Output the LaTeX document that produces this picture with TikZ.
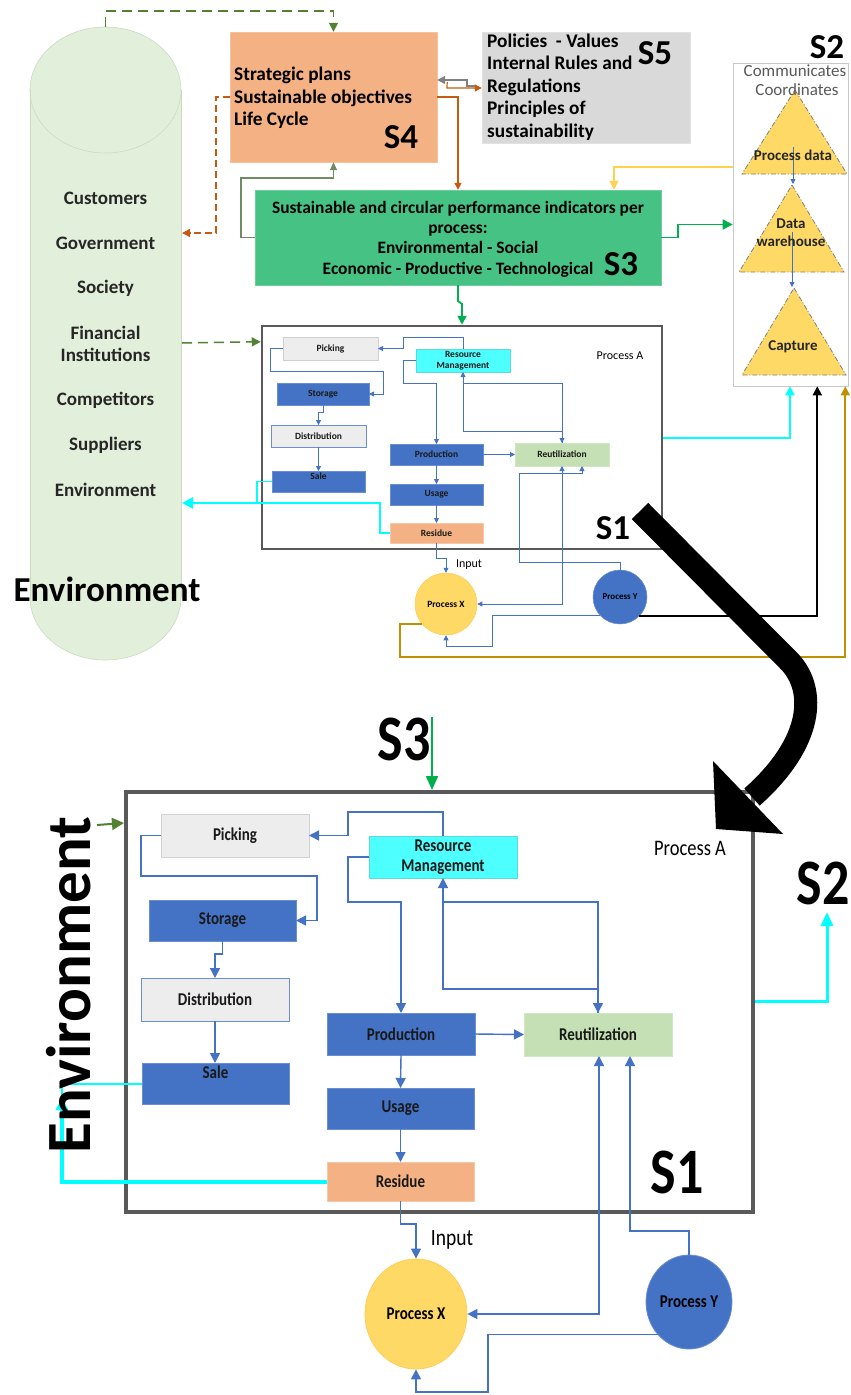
\documentclass[tikz,border=0pt]{standalone}
\usepackage{graphicx}
\usepackage{fontspec}
\setmainfont{Carlito}
\usetikzlibrary{arrows.meta,shapes.geometric,calc}
\definecolor{cylf}{HTML}{E2EFDA}
\definecolor{cyld}{HTML}{C9DCBE}
\definecolor{sfour}{HTML}{F4B183}
\definecolor{sfive}{HTML}{D9D9D9}
\definecolor{sthree}{HTML}{47C285}
\definecolor{cblue}{HTML}{4472C4}
\definecolor{cblueb}{HTML}{6A8FD0}
\definecolor{cgrey}{HTML}{EDEDED}
\definecolor{cgreyb}{HTML}{D0D0D0}
\definecolor{ccyan}{HTML}{4DFFFF}
\definecolor{creu}{HTML}{C5E0B4}
\definecolor{cyel}{HTML}{FFD966}
\definecolor{dgreen}{HTML}{548235}
\definecolor{corange}{HTML}{C55A11}
\definecolor{cgreen}{HTML}{00B050}
\definecolor{cgold}{HTML}{BF9000}
\definecolor{cframe}{HTML}{595959}
\definecolor{cyline}{HTML}{FFD24D}
\definecolor{lcyan}{HTML}{00FFFF}
\definecolor{ggreen}{HTML}{6E8B63}
\definecolor{tridash}{HTML}{7F7F7F}
\definecolor{s2border}{HTML}{C8C8C8}
\newcommand\fsz[1]{\fontsize{#1}{#1}\selectfont}
\newcommand\tallt[1]{\scalebox{1}[1.2]{#1}}
\tikzset{
  bxs/.style={rectangle, inner sep=0pt, outer sep=0pt, align=center, font=\bfseries\fsz{9.5}, text=black!90},
  blueS/.style={bxs, fill=cblue, draw=cblueb, line width=0.6pt},
  greyS/.style={bxs, fill=cgrey, draw=cgreyb, line width=0.6pt},
  greyblueS/.style={bxs, fill=cgrey, draw=cblueb, line width=0.6pt},
  cyanS/.style={bxs, fill=ccyan, draw=ccyan!70!gray, line width=0.4pt},
  reuS/.style={bxs, fill=creu, draw=creu!80!white, line width=0.4pt},
  resS/.style={bxs, fill=sfour, draw=sfour!70!white, line width=0.4pt},
  bxB/.style={rectangle, inner sep=0pt, outer sep=0pt, align=center, font=\bfseries\fsz{15}, text=black!90},
  blueB/.style={bxB, fill=cblue, draw=cblueb, line width=1pt},
  greyB/.style={bxB, fill=cgrey, draw=cgreyb, line width=1pt},
  greyblueB/.style={bxB, fill=cgrey, draw=cblueb, line width=1pt},
  cyanB/.style={bxB, fill=ccyan, draw=ccyan!70!gray, line width=0.6pt},
  reuB/.style={bxB, fill=creu, draw=creu!80!white, line width=0.6pt},
  resB/.style={bxB, fill=sfour, draw=sfour!70!white, line width=0.6pt},
  conS/.style={draw=cblue, line width=0.8pt, -{Triangle[length=5pt,width=5pt]}},
  conSb/.style={draw=cblue, line width=0.8pt, {Triangle[length=5pt,width=5pt]}-{Triangle[length=5pt,width=5pt]}},
  conB/.style={draw=cblue, line width=1.4pt, -{Triangle[length=10pt,width=10pt]}},
  conBb/.style={draw=cblue, line width=1.4pt, {Triangle[length=10pt,width=10pt]}-{Triangle[length=10pt,width=10pt]}},
  slab/.style={font=\bfseries\fsz{35}, inner sep=0pt},
  cyltxt/.style={font=\bfseries\fsz{19}, text=black!85, align=center},
  trifill/.style={fill=cyel, draw=tridash, line width=0.8pt, dash pattern=on 5pt off 2pt on 1pt off 2pt},
  tritxt/.style={font=\bfseries\fontsize{15}{18}\selectfont, text=black!85, align=center, inner sep=0pt},
}
\begin{document}
\begin{tikzpicture}[x=1pt,y=-1pt]
\useasboundingbox (0,0) rectangle (851,1395);
\fill[white] (0,0) rectangle (851,1395);

% ---------- cylinder (environment) ----------
\fill[cylf] (30,90) rectangle (181,597);
\fill[cylf] (105.5,597) ellipse [x radius=75.5, y radius=63];
\fill[cylf] (105.5,90) ellipse [x radius=75.5, y radius=63];
\draw[cyld, line width=0.6pt] (105.5,90) ellipse [x radius=75.5, y radius=63];
\draw[cyld, line width=0.6pt] (30,90) -- (30,597) (181,90) -- (181,597);
\begin{scope}
\clip (0,597) rectangle (200,700);
\draw[cyld, line width=0.6pt] (105.5,597) ellipse [x radius=75.5, y radius=63];
\end{scope}
\coordinate (cylTop) at (105.5,27);
\coordinate (cylA) at (182,233);
\coordinate (cylB) at (182,343);
\coordinate (cylC) at (182,503);

\node[cyltxt] (cCust) at (105.5,198) {Customers};
\node[cyltxt] (cGov) at (105.5,243) {Government};
\node[cyltxt] (cSoc) at (105.5,288) {Society};
\node[cyltxt, font=\bfseries\fontsize{19}{22}\selectfont] (cFin) at (105.5,344) {Financial\\Institutions};
\node[cyltxt] (cComp) at (105.5,400) {Competitors};
\node[cyltxt] (cSup) at (105.5,445) {Suppliers};
\node[cyltxt] (cEnv) at (105.5,490) {Environment};
\node[font=\bfseries\fsz{35}, inner sep=0pt] (envTop) at (107,589) {Environment};

% ---------- S4, S5, S3 ----------
\node[fill=sfour, draw=sfour!80!white, minimum width=207, minimum height=130, inner sep=0pt] (S4) at (333.5,97) {};
\node[anchor=west, align=left, font=\bfseries\fontsize{19.3}{22.5}\selectfont, inner sep=0pt] (S4t) at (234,98) {Strategic plans\\Sustainable objectives\\Life Cycle};
\node[slab] (S4l) at (401,137) {S4};

\node[fill=sfive, draw=sfive!80!white, minimum width=208, minimum height=111, inner sep=0pt] (S5) at (586,87.5) {};
\node[anchor=west, align=left, font=\bfseries\fontsize{19.3}{22.5}\selectfont, inner sep=0pt] (S5t) at (487,87) {Policies\ \ - Values\\Internal Rules and\\Regulations\\Principles of\\sustainability};
\node[slab] (S5l) at (655,53) {S5};

\node[fill=sthree, draw=sthree!80!white, minimum width=406, minimum height=95, inner sep=0pt] (S3) at (458,237.5) {};
\node[align=center, font=\bfseries\fontsize{17.4}{20.3}\selectfont, inner sep=0pt] (S3t) at (458,239) {Sustainable and circular performance indicators per\\process:\\Environmental - Social\\Economic - Productive - Technological};
\node[slab] (S3l) at (621,264) {S3};

% ---------- S2 column ----------
\node[slab] (S2l) at (827,47) {S2};
\node[draw=s2border, line width=0.6pt, minimum width=115, minimum height=323, inner sep=0pt] (S2box) at (790.5,224.5) {};
\filldraw[trifill] (795,90) -- (847,174) -- (742,174) -- cycle;
\filldraw[trifill] (792,185) -- (844,272) -- (739,272) -- cycle;
\filldraw[trifill] (794,288) -- (846,375) -- (742,375) -- cycle;
\coordinate (t1s) at (793,147);
\coordinate (t2a) at (793,184);
\coordinate (t2s) at (792,232);
\coordinate (t3a) at (792,287);
\draw[conS] (t1s) -- (t2a);
\draw[conS] (t2s) -- (t3a);
\node[font=\fsz{17}, text=cframe, inner sep=0pt] (comm) at (795,71) {Communicates};
\node[font=\fsz{17}, text=cframe, inner sep=0pt] (coord) at (797,90) {Coordinates};
\node[tritxt] (T1) at (793,155) {Process data};
\node[tritxt] (T2) at (791,233) {Data\\warehouse};
\node[tritxt] (T3) at (793,347) {Capture};

% ---------- top connectors ----------
\draw[dgreen, line width=1.5pt, dash pattern=on 10pt off 6pt, -{Triangle[length=9pt,width=9pt]}] (cylTop) -- (105.5,11) -| (S4.north);
\draw[corange, line width=1.3pt, dash pattern=on 7pt off 4pt, -{Triangle[length=8pt,width=8pt]}] (S4.west) -- (216,97) |- (cylA);
\draw[ggreen, line width=1.2pt, -{Triangle[length=8pt,width=7pt]}] (S3.west) -| (241,178) -| (S4.south);
\draw[corange, line width=1.2pt, -{Triangle[length=7pt,width=7pt]}] (S4.east) -| (S3.north);
\draw[gray, line width=1.2pt, -{Triangle[length=8pt,width=8pt]}] ($(S5.west)+(-6,-1.5)$) -- (467,86) -- (467,80) -- ($(S4.east)+(0,-17)$);
\draw[corange, line width=1.2pt, -{Triangle[length=7pt,width=7pt]}] ($(S4.east)+(10,-15)$) -- (447,88) -- ($(S5.west)+(0,0.5)$);
\draw[cyline, line width=1.5pt, -{Triangle[length=9pt,width=9pt]}] ($(S2box.west)+(0,-57.5)$) -| ($(S3.north)+(156,0)$);
\draw[cgreen, line width=1.8pt, -{Triangle[length=10pt,width=10pt]}] (S3.east) -- (678,237.5) |- (S2box.west);

% ---------- small process A ----------
\node[draw=cframe, line width=2.5pt, minimum width=400, minimum height=223, inner sep=0pt] (PA1) at (462,437.5) {};
\node[greyS, minimum width=95, minimum height=23] (Pick1) at (330.5,348.5) {Picking};
\node[cyanS, minimum width=94, minimum height=23, font=\bfseries\fontsize{9.5}{10.5}\selectfont] (RM1) at (463,360.5) {Resource\\Management};
\node[blueS, minimum width=92, minimum height=22] (Sto1) at (323,394) {Storage};
\node[greyblueS, minimum width=95, minimum height=22] (Dis1) at (318.5,436) {Distribution};
\node[blueS, minimum width=93, minimum height=21, label={[bxs, anchor=north, yshift=-2pt]north:Sale}] (Sale1) at (318.5,481.5) {};
\node[blueS, minimum width=93, minimum height=21] (Prod1) at (436.5,454.5) {Production};
\node[blueS, minimum width=93, minimum height=21] (Use1) at (436.5,494.5) {Usage};
\node[resS, minimum width=93, minimum height=20] (Res1) at (436.5,533) {Residue};
\node[reuS, minimum width=94, minimum height=23] (Reu1) at (562,454.5) {Reutilization};
\node[circle, fill=cyel, draw=cyel!85!orange, line width=0.5pt, minimum size=62, inner sep=0pt, font=\bfseries\fsz{9.5}] (PX1) at (446,604) {Process X};
\node[circle, fill=cblue, draw=cblueb, line width=0.5pt, minimum size=54, inner sep=0pt, font=\bfseries\fsz{9}] (PY1) at (620,597) {Process Y};
\node[font=\fsz{12}, inner sep=0pt] (PAl1) at (620,356) {Process A};
\node[font=\fsz{12}, inner sep=0pt] (In1) at (469,565) {Input};
\node[slab] (S1s) at (613,528) {S1};

\draw[conS] (RM1.north) |- (403,337) |- (Pick1.east);
\draw[conS] (Pick1.west) -- (270,348.5) |- (383,371) |- (Sto1.east);
\draw[conS] (Sto1.south) |- (318.5,412) -- (Dis1.north);
\draw[conS] (Dis1.south) -- (Sale1.north);
\draw[conS] (RM1.west) -- (403,360.5) |- (436.5,383) -- (Prod1.north);
\draw[conS] (Prod1.east) -- (Reu1.west);
\draw[conS] (Prod1.south) -- (Use1.north);
\draw[conS] (Use1.south) -- (Res1.north);
\draw[conS] (Reu1.north) |- (463,431) -- (RM1.south);
\draw[conS] ($(RM1.south)+(0,11.5)$) -| (Reu1.north);
\draw[conS] (Res1.south) |- (446,558) -- (PX1.north);
\draw[conSb] (Reu1.south) |- (PX1.east);
\draw[conS] (PY1.north) |- (519,562) |- (582,473) -- ($(Reu1.south)+(20,0)$);
\draw[conS] (PY1.223) -| (492,646) -| (PX1.south);

% connectors from small process A
\draw[cgreen, line width=1.8pt, -{Triangle[length=9pt,width=9pt]}] (S3.south) -- (458,301) -- (462,304) -- (PA1.north);
\draw[dgreen, line width=1.5pt, dash pattern=on 10pt off 6pt, -{Triangle[length=9pt,width=9pt]}] (cylB) -- ($(PA1.north west)+(0,17)$);
\draw[lcyan, line width=2pt, -{Triangle[length=9pt,width=9pt]}] (PA1.east) -| ($(S2box.south)+(-0.5,0)$);
\draw[black, line width=1.8pt, -{Triangle[length=9pt,width=9pt]}] (PY1.-45) -| ($(S2box.south east)+(-31,0)$);
\draw[cgold, line width=1.8pt, -{Triangle[length=9pt,width=9pt]}] (PX1.220) -| (400,657) -| ($(S2box.south east)+(-3,0)$);
\draw[lcyan, line width=2.5pt, -{Triangle[length=11pt,width=11pt]}] (Res1.west) -- (380,533) |- (cylC);
\draw[lcyan, line width=1.2pt] (Sale1.west) -| (257,503);

% ---------- big process A ----------
\node[draw=cframe, line width=4pt, minimum width=627, minimum height=420, inner sep=0pt] (PA2) at (439.5,1002) {};
\node[greyB, minimum width=148, minimum height=43] (Pick2) at (235,835.5) {\tallt{Picking}};
\node[cyanB, minimum width=148, minimum height=42, font=\bfseries\fontsize{15}{19.5}\selectfont] (RM2) at (443,857) {\tallt{Resource}\\\tallt{Management}};
\node[blueB, minimum width=147, minimum height=41] (Sto2) at (222.5,920.5) {\tallt{Storage}};
\node[greyblueB, minimum width=148, minimum height=43] (Dis2) at (215,999.5) {\tallt{Distribution}};
\node[blueB, minimum width=147, minimum height=41, label={[bxB, anchor=north, yshift=-3pt]north:\tallt{Sale}}] (Sale2) at (215.5,1083.5) {};
\node[blueB, minimum width=148, minimum height=42] (Prod2) at (401,1034) {\tallt{Production}};
\node[blueB, minimum width=147, minimum height=41] (Use2) at (400.5,1108.5) {\tallt{Usage}};
\node[resB, minimum width=147, minimum height=39] (Res2) at (400.5,1181.5) {\tallt{Residue}};
\node[reuB, minimum width=148, minimum height=43] (Reu2) at (598,1034.5) {\tallt{Reutilization}};
\node[ellipse, fill=cyel, draw=cyel!85!orange, line width=0.8pt, minimum width=102, minimum height=110, inner sep=0pt, font=\bfseries\fsz{15}] (PX2) at (416,1314) {\tallt{Process X}};
\node[ellipse, fill=cblue, draw=cblueb, line width=0.8pt, minimum width=86, minimum height=94, inner sep=0pt, font=\bfseries\fsz{15}] (PY2) at (689,1302) {\tallt{Process Y}};
\node[font=\fsz{18.5}, inner sep=0pt] (PAl2) at (690,848) {\tallt{Process A}};
\node[font=\fsz{19.5}, inner sep=0pt] (In2) at (452,1240) {\tallt{Input}};

\draw[conB] (RM2.north) |- (348,812) |- (Pick2.east);
\draw[conB] (Pick2.west) -- (141,835.5) |- (317,876) |- (Sto2.east);
\draw[conB] (Sto2.south) |- (215,954) -- (Dis2.north);
\draw[conB] (Dis2.south) -- (Dis2.south |- Sale2.north);
\draw[conB] (RM2.west) -- (348,857) |- (401,902) -- (Prod2.north);
\draw[conB] (Prod2.east) -- (Reu2.west);
\draw[conB] (Prod2.south) -- (Use2.north);
\draw[conB] (Use2.south) -- (Res2.north);
\draw[conB] (Reu2.north) |- (443,989) -- (RM2.south);
\draw[conB] ($(RM2.south)+(0,24)$) -| (Reu2.north);
\draw[conB] (Res2.south) |- (416,1224) -- (PX2.north);
\draw[conBb] ($(Reu2.south)+(1,0)$) |- (PX2.east);
\draw[conB] (PY2.north) |- (630,1231) -- ($(Reu2.south)+(32,0)$);
\draw[conB] (PY2.226) -| (488,1392) -| (PX2.south);

\coordinate (envArr) at (62,1098);
\coordinate (envG) at (97,825);
\coordinate (s3g) at (432,717);
\coordinate (s2c) at (827,912);
\draw[lcyan, line width=4pt, -{Triangle[length=12pt,width=12pt]}] (Res2.west) -- (62,1181.5) -- (envArr);
\draw[lcyan, line width=2pt] (Sale2.west) -| (envArr);
\draw[dgreen, line width=2pt, -{Triangle[length=12pt,width=12pt]}] (envG) -- ($(PA2.north west)+(0,33)$);
\draw[cgreen, line width=2pt, -{Triangle[length=14pt,width=12pt]}] (s3g) -- ($(PA2.north)+(-7.5,0)$);
\draw[lcyan, line width=3pt, -{Triangle[length=14pt,width=12pt]}] ($(PA2.east)+(0,-1)$) -| (s2c);

\node[font=\bfseries\fsz{54}, inner sep=0pt] (S3b) at (404,739) {\tallt{S3}};
\node[font=\bfseries\fsz{54}, inner sep=0pt] (S2b) at (823,883) {\tallt{S2}};
\node[font=\bfseries\fsz{54}, inner sep=0pt] (S1b) at (677,1172) {\tallt{S1}};
\node[rotate=90, font=\bfseries\fsz{63}, inner sep=0pt] (envBig) at (69,985) {Environment};

% ---------- big black arrow ----------
\draw[black, line width=23pt] (640,511) -- (790,662) .. controls (816,690) and (814,742) .. (752,797);
\fill[black] (713,761) -- (716,829) -- (783,834) -- cycle;
\end{tikzpicture}
\end{document}
